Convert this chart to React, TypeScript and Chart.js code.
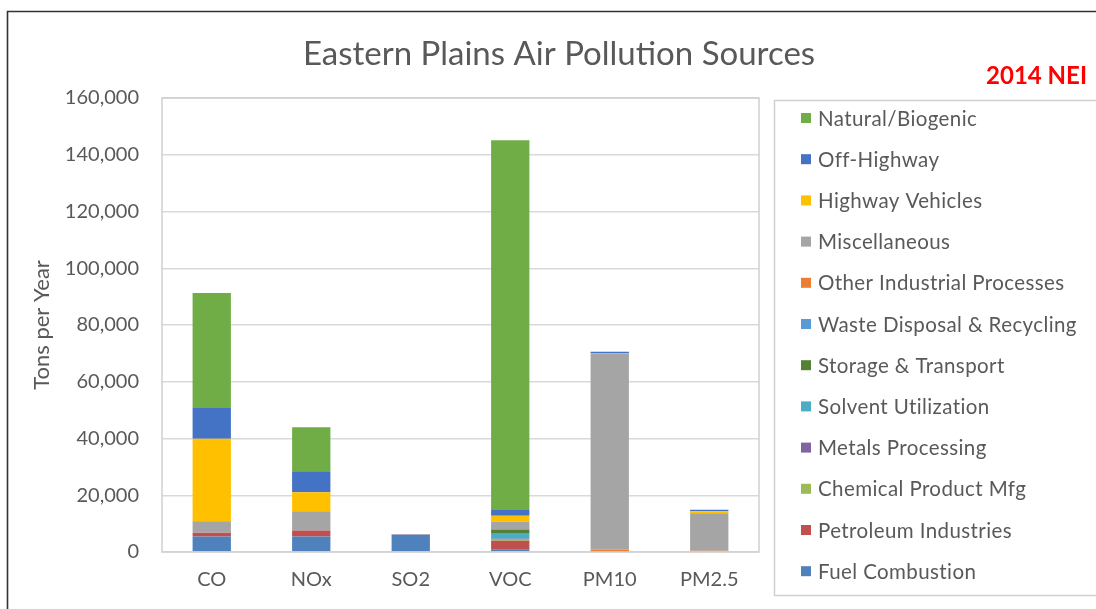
import React, { useEffect, useRef } from "react";
import { Chart, registerables } from "chart.js";
Chart.register(...registerables);

const categories = ["CO", "NOx", "SO2", "VOC", "PM10", "PM2.5"];
// stacked bottom -> top
const fuelCombustion = [5500, 5500, 6100, 800, 200, 300];
const petroleumIndustries = [1300, 2100, 50, 3200, 0, 0];
const chemicalProductMfg = [0, 0, 0, 600, 0, 0];
const metalsProcessing = [0, 0, 0, 60, 0, 0];
const solventUtilization = [0, 0, 0, 2000, 0, 0];
const storageTransport = [0, 0, 0, 1300, 0, 0];
const wasteDisposal = [100, 50, 0, 60, 50, 50];
const otherIndustrial = [50, 50, 0, 60, 600, 100];
const miscellaneous = [3900, 6700, 0, 2600, 68900, 13200];
const highwayVehicles = [29100, 6700, 50, 2100, 200, 700];
const offHighway = [10800, 7400, 50, 2000, 600, 500];
const naturalBiogenic = [40500, 15500, 0, 130300, 0, 0];

const seriesNames = [
  "Fuel Combustion",
  "Petroleum Industries",
  "Chemical Product Mfg",
  "Metals Processing",
  "Solvent Utilization",
  "Storage & Transport",
  "Waste Disposal & Recycling",
  "Other Industrial Processes",
  "Miscellaneous",
  "Highway Vehicles",
  "Off-Highway",
  "Natural/Biogenic",
];
const seriesValues = [
  fuelCombustion,
  petroleumIndustries,
  chemicalProductMfg,
  metalsProcessing,
  solventUtilization,
  storageTransport,
  wasteDisposal,
  otherIndustrial,
  miscellaneous,
  highwayVehicles,
  offHighway,
  naturalBiogenic,
];
const seriesColors = [
  "#4F81BD",
  "#C0504D",
  "#9BBB59",
  "#8064A2",
  "#4BACC6",
  "#548235",
  "#5B9BD5",
  "#ED7D31",
  "#A5A5A5",
  "#FFC000",
  "#4472C4",
  "#70AD47",
];

const chartTitle = "Eastern Plains Air Pollution Sources";
const noteText = "2014 NEI";
const yAxisTitle = "Tons per Year";
const yTicks = [0, 20000, 40000, 60000, 80000, 100000, 120000, 140000, 160000];

const FONT = "Lato, 'Open Sans', sans-serif";
const TEXT = "#595959";

const decorPlugin = {
  id: "decor",
  beforeDraw(chart: any) {
    const ctx = chart.ctx;
    ctx.save();
    ctx.fillStyle = "#ffffff";
    ctx.fillRect(0, 0, chart.width, chart.height);
    ctx.restore();
  },
  afterDraw(chart: any) {
    const ctx = chart.ctx;
    const a = chart.chartArea;
    ctx.save();
    // plot area frame
    ctx.strokeStyle = "#D0D0D0";
    ctx.lineWidth = 1.5;
    ctx.strokeRect(a.left, a.top, a.right - a.left, a.bottom - a.top);
    // outer screenshot frame
    ctx.strokeStyle = "#333333";
    ctx.lineWidth = 1.6;
    ctx.beginPath();
    ctx.moveTo(7.5, chart.height + 2);
    ctx.lineTo(7.5, 11.5);
    ctx.lineTo(chart.width + 2, 11.5);
    ctx.stroke();
    // title
    ctx.fillStyle = TEXT;
    ctx.font = `33px ${FONT}`;
    ctx.textAlign = "center";
    ctx.textBaseline = "middle";
    ctx.fillText(chartTitle, 559, 54);
    // note
    ctx.fillStyle = "#FF0000";
    ctx.font = `bold 24px ${FONT}`;
    ctx.textAlign = "right";
    ctx.fillText(noteText, 1087, 76);
    // legend box
    ctx.strokeStyle = "#D0D0D0";
    ctx.lineWidth = 1.5;
    ctx.strokeRect(774.5, 100.5, 400, 495);
    const ds = chart.data.datasets;
    ctx.font = `20.5px ${FONT}`;
    ctx.textAlign = "left";
    ctx.textBaseline = "middle";
    for (let i = 0; i < ds.length; i++) {
      const d = ds[ds.length - 1 - i];
      const y = 118 + i * 41.2;
      ctx.fillStyle = d.backgroundColor;
      ctx.fillRect(801, y - 5, 10, 10);
      ctx.fillStyle = TEXT;
      (ctx as any).letterSpacing = "0.4px";
      ctx.fillText(d.label, 818, y + 1);
    }
    ctx.restore();
  },
};

export default function App() {
  const ref = useRef<HTMLCanvasElement>(null);
  useEffect(() => {
    if (!ref.current) return;
    const chart = new Chart(ref.current, {
      type: "bar",
      data: {
        labels: categories,
        datasets: seriesNames.map((name, i) => ({
          label: name,
          data: seriesValues[i],
          backgroundColor: seriesColors[i],
          borderWidth: 0,
          barPercentage: 0.385,
          categoryPercentage: 1,
        })),
      },
      options: {
        responsive: false,
        animation: false,
        devicePixelRatio: 1,
        layout: { padding: { left: 0, top: 98, right: 337, bottom: 0 } },
        plugins: {
          legend: { display: false },
          title: { display: false },
          tooltip: { enabled: false },
        },
        scales: {
          x: {
            stacked: true,
            grid: { display: false, drawTicks: false },
            border: { display: false },
            ticks: {
              color: TEXT,
              font: { family: FONT, size: 20 },
              padding: 16,
            },
            afterFit: (s: any) => {
              s.height = 57;
            },
          },
          y: {
            stacked: true,
            min: 0,
            max: 160000,
            afterBuildTicks: (s: any) => {
              s.ticks = yTicks.map((v) => ({ value: v }));
            },
            grid: { color: "#D9D9D9", lineWidth: 1.5, drawTicks: false },
            border: { display: false },
            ticks: {
              color: TEXT,
              font: { family: FONT, size: 20 },
              padding: 23,
              callback: (v: any) => Number(v).toLocaleString("en-US"),
            },
            title: {
              display: true,
              text: yAxisTitle,
              color: TEXT,
              font: { family: FONT, size: 22 },
              padding: { top: 29, bottom: 0 },
            },
            afterFit: (s: any) => {
              s.width = 162;
            },
          },
        },
      },
      plugins: [decorPlugin],
    });
    return () => chart.destroy();
  }, []);
  return (
    <div style={{ position: "fixed", left: 0, top: 0, width: 1096, height: 609, background: "#fff" }}>
      <canvas ref={ref} width={1096} height={609} style={{ width: 1096, height: 609, display: "block" }} />
    </div>
  );
}
